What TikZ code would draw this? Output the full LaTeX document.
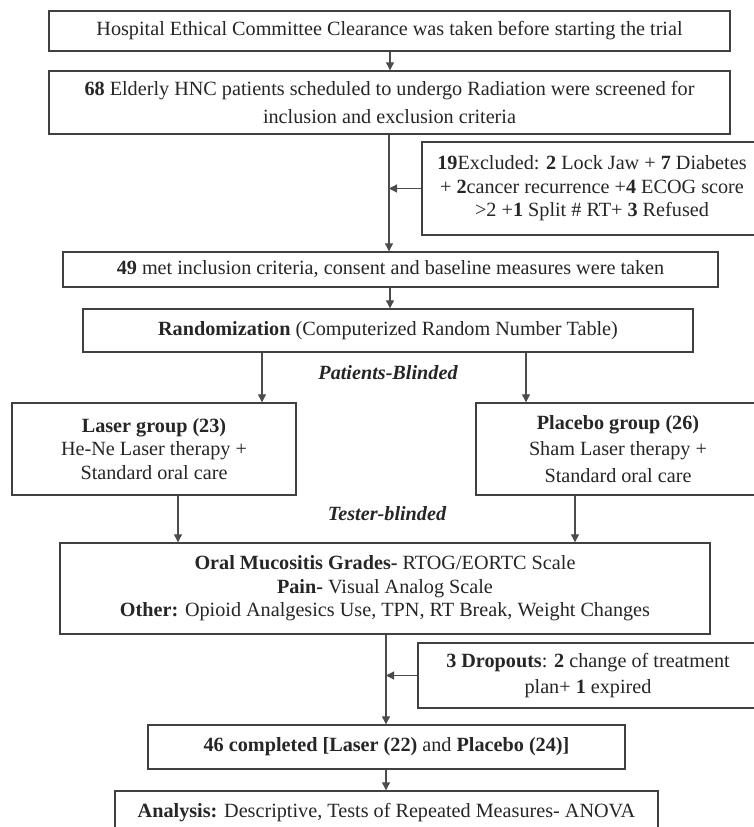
\documentclass[tikz,border=0pt]{standalone}
\usepackage{fontspec}
\setmainfont{Liberation Serif}
\usetikzlibrary{arrows.meta}
\begin{document}
\begin{tikzpicture}[x=1pt,y=-1pt,
  box/.style={draw=black!75, line width=1.4pt, align=center, inner sep=0pt,
    font=\fontsize{20.2}{23.5}\selectfont, text=black!85},
  arr/.style={draw=black!70, line width=1.2pt, -{Triangle[width=8pt,length=8pt]}},
  lbl/.style={font=\fontsize{20.2}{24}\selectfont\bfseries\itshape, text=black!85}]
\clip (0,0) rectangle (754,827);
\fill[white] (0,0) rectangle (754,827);
\coordinate (cA) at (389,0);
\coordinate (cB) at (386,0);
\coordinate (cL) at (262,0);
\coordinate (cR) at (526,0);
\coordinate (cLd) at (178,0);
\coordinate (cRd) at (575,0);
\coordinate (cM) at (390,0);

\node[box, minimum width=681pt, minimum height=40pt] (b1) at (389.5,31)
  {Hospital Ethical Committee Clearance was taken before starting the trial};
\node[box, minimum width=681pt, minimum height=63pt] (b2) at (389.5,102.5)
  {\textbf{68} Elderly HNC patients scheduled to undergo Radiation were screened for\\[4pt]inclusion and exclusion criteria};
\node[box, minimum width=340pt, minimum height=93pt] (ex) at (592,188.5)
  {\textbf{19}Excluded: \textbf{2} Lock Jaw + \textbf{7} Diabetes\\+ \textbf{2}cancer recurrence +\textbf{4} ECOG score\\>2 +\textbf{1} Split \# RT+ \textbf{3} Refused};
\node[box, minimum width=655pt, minimum height=35pt] (b3) at (390.5,269.5)
  {\textbf{49} met inclusion criteria, consent and baseline measures were taken};
\node[box, minimum width=610pt, minimum height=43pt] (rand) at (388,330.5)
  {\textbf{Randomization} (Computerized Random Number Table)};
\node[lbl] (pb) at (388,373) {Patients-Blinded};
\node[box, minimum width=284pt, minimum height=92pt] (laser) at (154,449)
  {\textbf{Laser group (23)}\\He-Ne Laser therapy +\\Standard oral care};
\node[box, minimum width=284pt, minimum height=92pt] (plac) at (618,449)
  {\textbf{Placebo group (26)}\\[3pt]Sham Laser therapy +\\[3pt]Standard oral care};
\node[lbl] (tb) at (387,514) {Tester-blinded};
\node[box, minimum width=650pt, minimum height=91pt] (out) at (385,588.5)
  {\textbf{Oral Mucositis Grades-} RTOG/EORTC Scale\\\textbf{Pain-} Visual Analog Scale\\\textbf{Other:} Opioid Analgesics Use, TPN, RT Break, Weight Changes};
\node[box, minimum width=340pt, minimum height=65pt] (drop) at (588,675.5)
  {\textbf{3 Dropouts}: \textbf{2} change of treatment\\[2pt]plan+ \textbf{1} expired};
\node[box, minimum width=477pt, minimum height=44pt] (b46) at (386.5,747)
  {\textbf{46 completed [Laser (22)} and \textbf{Placebo (24)]}};
\node[box, minimum width=543pt, minimum height=44pt] (ana) at (386.5,813)
  {\textbf{Analysis:} Descriptive, Tests of Repeated Measures- ANOVA};

\draw[arr] (b1.south -| cM) -- (b2.north -| cM);
\draw[arr] (b2.south -| cA) -- (b3.north -| cA);
\draw[arr] (ex.west) -- (ex.west -| cA);
\draw[arr] (b3.south -| cM) -- (rand.north -| cM);
\draw[arr] (rand.south -| cL) -- (laser.north -| cL);
\draw[arr] (rand.south -| cR) -- (plac.north -| cR);
\draw[arr] (laser.south -| cLd) -- (out.north -| cLd);
\draw[arr] (plac.south -| cRd) -- (out.north -| cRd);
\draw[arr] (out.south -| cB) -- (b46.north -| cB);
\draw[arr] (drop.west) -- (drop.west -| cB);
\draw[arr] (b46.south -| cB) -- (ana.north -| cB);
\end{tikzpicture}
\end{document}
